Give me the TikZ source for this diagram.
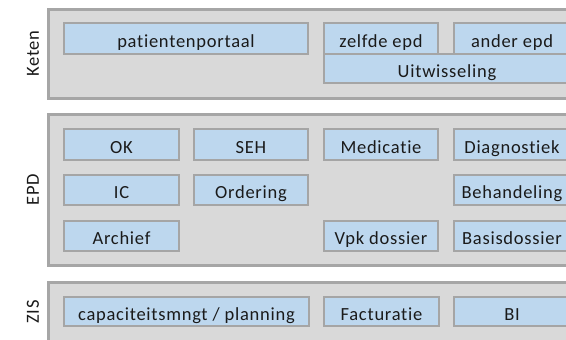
\documentclass[tikz,border=0pt]{standalone}
\usepackage{fontspec}
\setmainfont{Carlito}[Ligatures={NoCommon,NoRequired}, LetterSpace=4]
\definecolor{panelfill}{HTML}{D9D9D9}
\definecolor{panelline}{HTML}{A6A6A6}
\definecolor{boxfill}{HTML}{BDD7EE}
\definecolor{boxline}{HTML}{A5A5A5}
\definecolor{txt}{HTML}{1A1A1A}
\tikzset{
  panel/.style={draw=panelline, fill=panelfill, line width=3pt, inner sep=0pt, outer sep=0pt},
  blk/.style={draw=boxline, fill=boxfill, line width=2pt, inner sep=0pt, outer sep=0pt, text=txt,
    font=\fontsize{18.5}{20}\selectfont, text height=17.5pt, text depth=0pt},
  side/.style={rotate=90, text=txt, font=\fontsize{18.5}{20}\selectfont},
}
% \bx{style}{name}{x1}{y1}{x2}{y2}{text}
\newcommand\bx[7]{%
  \pgfmathsetmacro\bxw{#5-#3}%
  \pgfmathsetmacro\bxh{#6-#4}%
  \pgfmathsetmacro\bxcx{(#3+#5)/2}%
  \pgfmathsetmacro\bxcy{(#4+#6)/2}%
  \node[#1, minimum width=\bxw pt, minimum height=\bxh pt] (#2) at (\bxcx,\bxcy) {#7};%
}
\begin{document}
\begin{tikzpicture}[x=1pt, y=-1pt]
\useasboundingbox (0,0) rectangle (566,340);
\begin{scope}
\clip (0,0) rectangle (566,340);
% panels
\bx{panel}{keten}{48}{9.5}{584}{98}{}
\bx{panel}{epd}{48}{114}{584}{265}{}
\bx{panel}{zis}{48}{282}{584}{345}{}
% side labels
\node[side] (lketen) at (33,53.5) {Keten};
\node[side] (lepd) at (33,189.5) {EPD};
\node[side] (lzis) at (33,312) {ZIS};
% Keten
\bx{blk}{portaal}{64}{23}{308}{53.5}{patientenportaal}
\bx{blk}{uitw}{324}{53.5}{570}{83}{Uitwisseling}
\bx{blk}{zelfde}{324}{23}{438}{53.5}{zelfde epd}
\bx{blk}{ander}{454}{23}{570}{53.5}{ander epd}
% EPD row 1
\bx{blk}{ok}{64}{129}{179}{160}{OK}
\bx{blk}{seh}{194}{129}{308}{160}{SEH}
\bx{blk}{med}{324}{129}{438}{160}{Medicatie}
\bx{blk}{diag}{454}{129}{570}{160}{Diagnostiek}
% EPD row 2
\bx{blk}{ic}{64}{175}{179}{205}{IC}
\bx{blk}{ord}{194}{175}{308}{205}{Ordering}
\bx{blk}{beh}{454}{175}{570}{205}{Behandeling}
% EPD row 3
\bx{blk}{arch}{64}{221}{179}{251}{Archief}
\bx{blk}{vpk}{324}{221}{438}{251}{Vpk dossier}
\bx{blk}{basis}{454}{221}{570}{251}{Basisdossier}
% ZIS
\bx{blk}{cap}{64}{297}{309}{326}{capaciteitsmngt / planning}
\bx{blk}{fact}{324}{297}{439}{326}{Facturatie}
\bx{blk}{bi}{454}{297}{570}{326}{BI}
\end{scope}
\end{tikzpicture}
\end{document}
